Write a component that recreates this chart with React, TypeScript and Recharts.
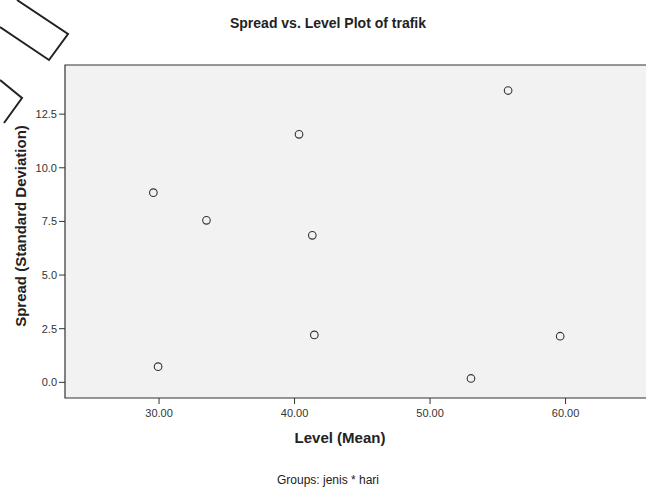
import { ScatterChart, Scatter, XAxis, YAxis, ReferenceArea } from "recharts";

// group means (level) and standard deviations (spread)
const levels = [29.58, 33.5, 40.33, 41.31, 41.46, 29.93, 53.02, 55.76, 59.6];
const spreads = [8.84, 7.55, 11.56, 6.85, 2.21, 0.73, 0.18, 13.6, 2.15];
const xTicks = [30, 40, 50, 60];
const yTicks = [0, 2.5, 5, 7.5, 10, 12.5];

const X_DOMAIN: [number, number] = [23.06, 66.6];
const Y_DOMAIN: [number, number] = [-0.73, 14.79];

const points = levels.map((x, i) => ({ x, y: spreads[i] }));

const FONT = "'Liberation Sans', Arial, sans-serif";
const TICK = { fill: "#333", fontSize: 11, fontFamily: FONT };

function Ring(props: any) {
  const { cx, cy } = props;
  if (cx == null || cy == null) return null;
  return <circle cx={cx} cy={cy} r={3.8} fill="none" stroke="#333" strokeWidth={1.1} />;
}

export default function App() {
  return (
    <div
      style={{
        position: "fixed",
        left: 0,
        top: 0,
        width: 646,
        height: 489,
        overflow: "hidden",
        background: "#fff",
        fontFamily: FONT,
        color: "#222",
      }}
    >
      {/* watermark outlines */}
      <svg width={646} height={489} style={{ position: "absolute", left: 0, top: 0 }}>
        <polyline points="17,0 68,34 49,60 0,27" fill="none" stroke="#222" strokeWidth={2} />
        <polyline points="0,80 22,98 4,123" fill="none" stroke="#222" strokeWidth={2} />
      </svg>

      <div style={{ position: "absolute", left: 0, top: 0 }}>
        <ScatterChart width={660} height={489} margin={{ top: 65, right: 5, bottom: 61, left: 5 }}>
          <XAxis
            type="number"
            dataKey="x"
            domain={X_DOMAIN}
            ticks={xTicks}
            allowDataOverflow
            height={30}
            tickFormatter={(v: number) => v.toFixed(2)}
            tick={TICK}
            tickSize={6}
            tickMargin={5}
            axisLine={false}
            tickLine={{ stroke: "#333" }}
          />
          <YAxis
            type="number"
            dataKey="y"
            domain={Y_DOMAIN}
            ticks={yTicks}
            allowDataOverflow
            width={60}
            tickFormatter={(v: number) => v.toFixed(1)}
            tick={TICK}
            tickSize={6}
            axisLine={false}
            tickLine={{ stroke: "#333" }}
          />
          <ReferenceArea
            x1={X_DOMAIN[0]}
            x2={X_DOMAIN[1]}
            y1={Y_DOMAIN[0]}
            y2={Y_DOMAIN[1]}
            fill="#f2f2f2"
            fillOpacity={1}
            stroke="#333"
            strokeWidth={1.2}
          />
          <Scatter data={points} shape={Ring} isAnimationActive={false} />
        </ScatterChart>
      </div>

      <div style={{ position: "absolute", left: 0, width: 656, top: 15, textAlign: "center", fontSize: 14, fontWeight: "bold" }}>
        Spread vs. Level Plot of trafik
      </div>
      <div style={{ position: "absolute", left: 65, width: 550, top: 429, textAlign: "center", fontSize: 15, fontWeight: "bold" }}>
        Level (Mean)
      </div>
      <div style={{ position: "absolute", left: 0, width: 656, top: 473, textAlign: "center", fontSize: 12 }}>
        Groups: jenis * hari
      </div>
      <div
        style={{
          position: "absolute",
          left: 20,
          top: 226,
          transform: "translate(-50%, -50%) rotate(-90deg)",
          whiteSpace: "nowrap",
          fontSize: 15,
          fontWeight: "bold",
        }}
      >
        Spread (Standard Deviation)
      </div>
    </div>
  );
}
